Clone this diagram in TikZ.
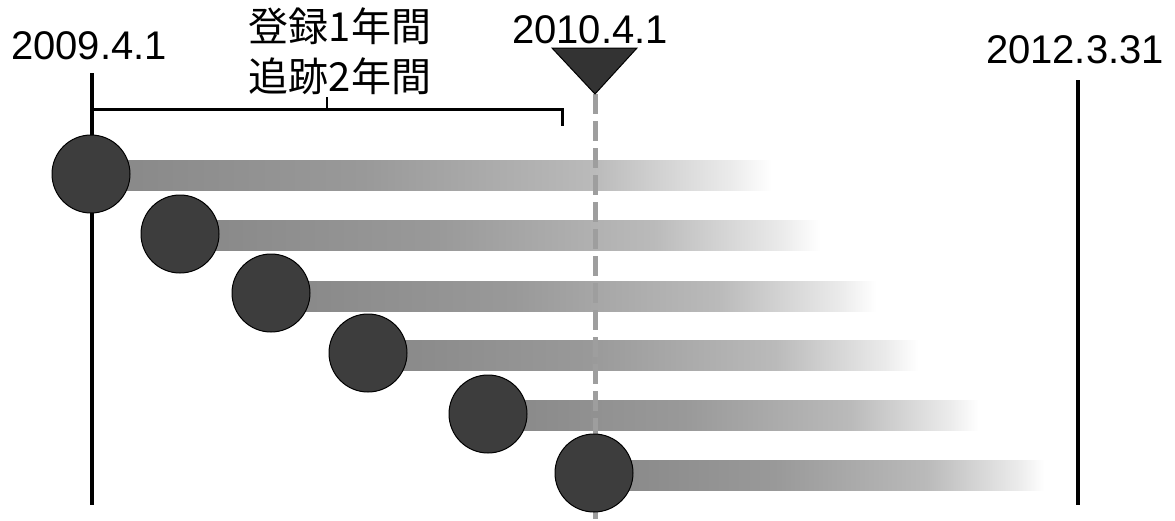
\documentclass[tikz,border=0pt]{standalone}
\usepackage{fontspec}
\setmainfont{Liberation Sans}
\newfontfamily\cjk{Noto Sans CJK JP}
\pgfdeclarehorizontalshading{barfade}{100bp}{color(0bp)=(black!47); color(25bp)=(black!47); color(45bp)=(black!40); color(62bp)=(black!27); color(72bp)=(black!8); color(75bp)=(white); color(100bp)=(white)}
\tikzset{
  lbl/.style={anchor=base, inner sep=0pt, font=\fontsize{40}{44}\selectfont},
  jlbl/.style={anchor=base, inner sep=0pt, font=\cjk\fontsize{40}{44}\selectfont},
  dot/.style={circle, minimum size=78pt, inner sep=0pt, fill=black!76, draw=black, line width=1pt},
  barbox/.style={rectangle, anchor=west, minimum height=30pt, inner sep=0pt, shading=barfade},
  tline/.style={line width=3.5pt, black},
  dline/.style={line width=5pt, black!38, dash pattern=on 20pt off 7pt},
  brk/.style={line width=3pt, black}
}
\begin{document}
\begin{tikzpicture}[x=1pt,y=-1pt]
\useasboundingbox (0,0) rectangle (1175,520);
% circle centres
\coordinate (p1) at (91,174);
\coordinate (p2) at (180,234);
\coordinate (p3) at (271,293);
\coordinate (p4) at (368,353);
\coordinate (p5) at (488,414);
\coordinate (p6) at (594,473);
% bars
\node[barbox, minimum width=680pt] (b1) at ([yshift=-1pt]p1) {};
\node[barbox, minimum width=640pt] (b2) at ([yshift=-1pt]p2) {};
\node[barbox, minimum width=605pt] (b3) at ([yshift=-3pt]p3) {};
\node[barbox, minimum width=550pt] (b4) at ([yshift=-2pt]p4) {};
\node[barbox, minimum width=490pt] (b5) at ([yshift=-1pt]p5) {};
\node[barbox, minimum width=450pt] (b6) at ([yshift=-2pt]p6) {};
% labels
\node[lbl] (t1) at (89,59) {2009.4.1};
\node[lbl] (t2) at (590,43) {2010.4.1};
\node[lbl] (t3) at (1075,63) {2012.3.31};
\node[jlbl] (j1) at (340,41) {登録1年間};
\node[jlbl] (j2) at (340,91) {追跡2年間};
% timeline lines
\coordinate (l1) at (92,73);
\coordinate (l2) at (92,505);
\coordinate (r1) at (1078,80);
\coordinate (r2) at (1078,505);
\coordinate (d1) at (595,94);
\coordinate (d2) at (595,520);
\draw[tline] (l1) -- (l2);
\draw[tline] (r1) -- (r2);
\draw[dline] (d1) -- (d2);
% bracket
\coordinate (k1) at (92,109);
\coordinate (k2) at (562,109);
\coordinate (k3) at (562,126);
\coordinate (m1) at (327,109);
\coordinate (m2) at (327,97);
\draw[brk] (k1) -- (k2) -- (k3);
\draw[line width=2.5pt] (m1) -- (m2);
% triangle marker
\coordinate (v1) at (552,48);
\coordinate (v2) at (637,48);
\draw[fill=black!80, draw=black, line width=1pt] (v1) -- (v2) -- (d1) -- cycle;
% circles
\node[dot] (c1) at (p1) {};
\node[dot] (c2) at (p2) {};
\node[dot] (c3) at (p3) {};
\node[dot] (c4) at (p4) {};
\node[dot] (c5) at (p5) {};
\node[dot] (c6) at (p6) {};
\end{tikzpicture}
\end{document}
